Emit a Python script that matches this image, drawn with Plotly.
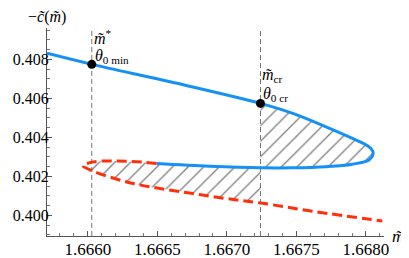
import numpy as np
import plotly.graph_objects as go

# ---- data ----
# stable branch (solid blue): upper branch -> right fold -> middle branch
m_stable = [1.665707, 1.666029, 1.666633, 1.667242, 1.667474, 1.667713, 1.667903,
            1.668023, 1.668052, 1.668023, 1.667903, 1.667713, 1.667474, 1.667242,
            1.666877, 1.666495]
c_stable = [0.408314, 0.407748, 0.406787, 0.405743, 0.405229, 0.404540, 0.403943,
            0.403512, 0.403213, 0.402853, 0.402622, 0.402494, 0.402437, 0.402437,
            0.402519, 0.402658]
# unstable continuation (dashed red): middle branch -> left fold -> lower branch
m_unstable = [1.666495, 1.666399, 1.666280, 1.666160, 1.666041, 1.665965, 1.666041,
              1.666280, 1.666519, 1.666757, 1.666996, 1.667242, 1.667641, 1.668118]
c_unstable = [0.402658, 0.402725, 0.402776, 0.402787, 0.402740, 0.402545, 0.402262,
              0.401712, 0.401373, 0.401116, 0.400859, 0.400632, 0.400180, 0.399707]
# marked points
m_star, c_star = 1.666029, 0.407748
m_cr, c_cr = 1.667242, 0.405743
# ticks
x_ticks = [1.6660, 1.6665, 1.6670, 1.6675, 1.6680]
x_ticklabels = ["1.6660", "1.6665", "1.6670", "1.6675", "1.6680"]
y_ticks = [0.400, 0.402, 0.404, 0.406, 0.408]
y_ticklabels = ["0.400", "0.402", "0.404", "0.406", "0.408"]

BLUE = "#1591f5"
RED = "#ff2f0a"
FONT = "Liberation Serif, Times New Roman, DejaVu Serif, serif"

ms = np.array(m_stable); cs = np.array(c_stable)
mu = np.array(m_unstable); cu = np.array(c_unstable)
tip = int(np.argmax(ms))

# hatched region A: stable loop right of m_cr
idxA = [i for i in range(len(ms)) if ms[i] >= m_cr - 1e-9 and i >= 1]
regA_m = ms[idxA]; regA_c = cs[idxA]
# hatched region B: between middle branch and lower branch, left of m_cr
idxB1 = [i for i in range(tip, len(ms)) if ms[i] <= m_cr + 1e-9]
idxB2 = [i for i in range(1, len(mu)) if mu[i] <= m_cr + 1e-9]
regB_m = np.concatenate([ms[idxB1], mu[idxB2]])
regB_c = np.concatenate([cs[idxB1], cu[idxB2]])

fig = go.Figure()
pat = dict(shape="/", size=11, solidity=0.12, fgcolor="black", bgcolor="rgba(0,0,0,0)")
for xm, yc in ((regA_m, regA_c), (regB_m, regB_c)):
    fig.add_trace(go.Scatter(x=xm, y=yc, mode="lines", fill="toself",
                             fillcolor="rgba(0,0,0,0)", fillpattern=pat,
                             line=dict(width=0, shape="spline"), hoverinfo="skip"))

fig.add_trace(go.Scatter(x=mu, y=cu, mode="lines",
                         line=dict(color=RED, width=3, dash="10px,5px", shape="spline")))
fig.add_trace(go.Scatter(x=ms, y=cs, mode="lines",
                         line=dict(color=BLUE, width=3, shape="spline")))
fig.add_trace(go.Scatter(x=[m_star, m_cr], y=[c_star, c_cr], mode="markers",
                         marker=dict(color="black", size=9)))

for xv in (m_star, m_cr):
    fig.add_shape(type="line", x0=xv, x1=xv, xref="x", y0=0, y1=1, yref="paper",
                  line=dict(color="#777777", width=1, dash="5px,3px"), layer="below")

xtf = dict(family=FONT, size=17, color="black")
ytf = dict(family=FONT, size=16, color="black")
# page body has an 8px margin: figure is sized/placed to fill the 409x258 window
fig.update_layout(
    width=401, height=250, showlegend=False,
    margin=dict(l=39, r=25, t=20, b=22, autoexpand=False),
    paper_bgcolor="white", plot_bgcolor="white",
    font=dict(family=FONT),
    xaxis=dict(range=[1.665707, 1.668130], showgrid=False, zeroline=False,
               automargin=False,
               showline=True, linecolor="#555555", linewidth=1,
               ticks="inside", ticklen=5, tickcolor="#555555",
               tickvals=x_ticks, ticktext=x_ticklabels, tickfont=xtf,
               ticklabelstandoff=-2,
               minor=dict(dtick=0.0001, tick0=1.666, ticks="inside", ticklen=3,
                          tickcolor="#777777")),
    yaxis=dict(range=[0.398936, 0.409614], showgrid=False, zeroline=False,
               automargin=False,
               showline=True, linecolor="#555555", linewidth=1,
               ticks="inside", ticklen=5, tickcolor="#555555",
               tickvals=y_ticks, ticktext=y_ticklabels, tickfont=ytf,
               ticklabelstandoff=-6,
               minor=dict(dtick=0.0005, tick0=0.4, ticks="inside", ticklen=3,
                          tickcolor="#777777")),
)

fig.add_annotation(text="−<i>c̃</i>(<i>m̃</i>)", xref="paper", yref="paper", x=0, y=1,
                   xanchor="center", yanchor="middle", yshift=11, showarrow=False,
                   font=dict(family=FONT, size=16, color="black"))
fig.add_annotation(text="<i>m̃</i>", xref="paper", yref="paper", x=1, y=0,
                   xanchor="left", yanchor="middle", xshift=6, showarrow=False,
                   font=dict(family=FONT, size=17, color="black"))
lf = dict(family=FONT, size=16, color="black")
fig.add_annotation(text="<i>m̃</i><sup>*</sup>", x=m_star, y=c_star, xanchor="left",
                   yanchor="middle", xshift=0, yshift=27, showarrow=False, font=lf)
fig.add_annotation(text="<i>θ</i><sub>0 min</sub>", x=m_star, y=c_star, xanchor="left",
                   yanchor="middle", xshift=1, yshift=8, showarrow=False, font=lf)
fig.add_annotation(text="<i>m̃</i><sub>cr</sub>", x=m_cr, y=c_cr, xanchor="left",
                   yanchor="middle", xshift=0, yshift=28, showarrow=False, font=lf)
fig.add_annotation(text="<i>θ</i><sub>0 cr</sub>", x=m_cr, y=c_cr, xanchor="left",
                   yanchor="middle", xshift=1, yshift=9, showarrow=False, font=lf)

fig.write_html("out.html")
